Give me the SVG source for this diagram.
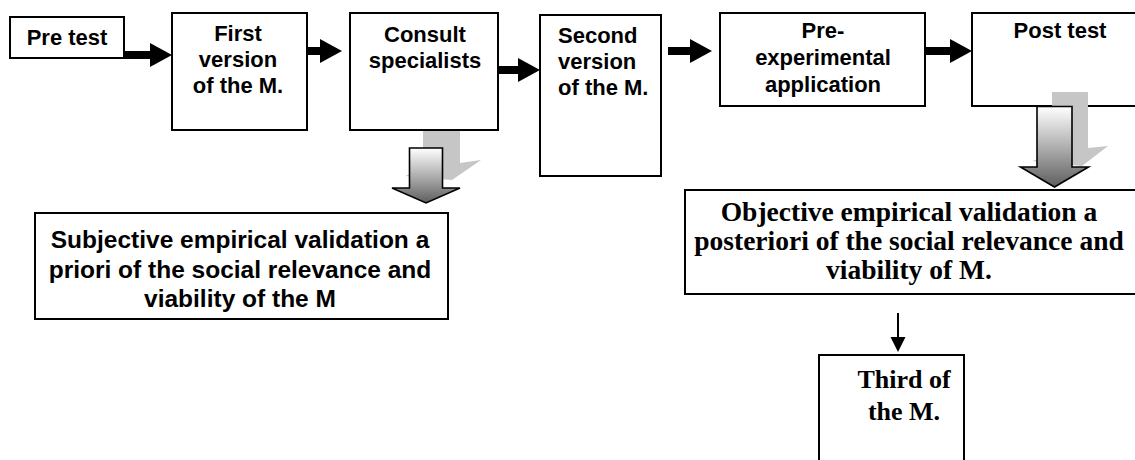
<svg xmlns="http://www.w3.org/2000/svg" width="1135" height="460" viewBox="0 0 1135 460">
  <style>
    .box { fill: #ffffff; stroke: #000000; stroke-width: 2; }
    .sans { font-family: "Liberation Sans", Arial, sans-serif; font-weight: bold; fill: #000000; }
    .serif { font-family: "Liberation Serif", "Times New Roman", serif; font-weight: bold; fill: #000000; }
    .top { font-size: 22px; }
    .big { font-size: 24.5px; }
    .tnr { font-size: 27.5px; }
    .flow { stroke: #000000; stroke-width: 8; fill: none; marker-end: url(#head); }
    .shadow { fill: #c6c6c6; stroke: none; }
    .block { fill: url(#shade); stroke: #000000; stroke-width: 1.6; stroke-linejoin: miter; }
  </style>
  <defs>
    <marker id="head" markerUnits="userSpaceOnUse" markerWidth="22" markerHeight="26" refX="0" refY="12" orient="auto">
      <path d="M0,0 L22,12 L0,24 Z" fill="#000000"/>
    </marker>
    <marker id="thin" markerUnits="userSpaceOnUse" markerWidth="16" markerHeight="16" refX="0" refY="7.5" orient="auto">
      <path d="M0,0 L15,7.5 L0,15 Z" fill="#000000"/>
    </marker>
    <linearGradient id="shade" x1="0" y1="0" x2="0" y2="1">
      <stop offset="0" stop-color="#ffffff"/>
      <stop offset="0.55" stop-color="#a8a8a8"/>
      <stop offset="1" stop-color="#5e5e5e"/>
    </linearGradient>
  </defs>

  <!-- process steps -->
  <g id="pre-test">
    <rect class="box" x="10" y="17" width="114" height="41"/>
    <text class="sans top" x="67" y="45" text-anchor="middle">Pre test</text>
  </g>
  <g id="first-version">
    <rect class="box" x="172" y="13" width="135" height="117"/>
    <text class="sans top" x="238" text-anchor="middle"><tspan x="238" y="41">First</tspan><tspan x="238" y="67">version</tspan><tspan x="238" y="93">of the M.</tspan></text>
  </g>
  <g id="consult-specialists">
    <rect class="box" x="350" y="13" width="148" height="117"/>
    <text class="sans top" text-anchor="middle"><tspan x="425" y="42">Consult</tspan><tspan x="425" y="68">specialists</tspan></text>
  </g>
  <g id="second-version">
    <rect class="box" x="540" y="15" width="121" height="161"/>
    <text class="sans top"><tspan x="558" y="43">Second</tspan><tspan x="558" y="69">version</tspan><tspan x="558" y="95">of the M.</tspan></text>
  </g>
  <g id="pre-experimental">
    <rect class="box" x="720" y="13" width="205" height="93"/>
    <text class="sans top" text-anchor="middle"><tspan x="823" y="38">Pre-</tspan><tspan x="823" y="65">experimental</tspan><tspan x="823" y="92">application</tspan></text>
  </g>
  <g id="post-test">
    <rect class="box" x="972" y="13" width="180" height="93"/>
    <text class="sans top" x="1060" y="38" text-anchor="middle">Post test</text>
  </g>

  <!-- validation results -->
  <g id="subjective-validation">
    <rect class="box" x="35" y="213" width="413" height="106"/>
    <text class="sans big" text-anchor="middle"><tspan x="240" y="248">Subjective empirical validation a</tspan><tspan x="240" y="277.5">priori of the social relevance and</tspan><tspan x="240" y="307">viability of the M</tspan></text>
  </g>
  <g id="objective-validation">
    <rect class="box" x="685" y="190" width="470" height="104"/>
    <text class="serif tnr" text-anchor="middle"><tspan x="909" y="221">Objective empirical validation a</tspan><tspan x="909" y="250">posteriori of the social relevance and</tspan><tspan x="909" y="279">viability of M.</tspan></text>
  </g>
  <g id="third-version">
    <rect class="box" x="819" y="355" width="145" height="120"/>
    <text class="serif" font-size="26" text-anchor="middle"><tspan x="904" y="388">Third of</tspan><tspan x="904" y="420">the M.</tspan></text>
  </g>

  <!-- connectors -->
  <g id="connectors">
    <line class="flow" x1="124" y1="55" x2="150" y2="55"/>
    <line class="flow" x1="308" y1="51" x2="320" y2="51"/>
    <line class="flow" x1="499" y1="70" x2="518" y2="70"/>
    <line class="flow" x1="668" y1="51" x2="690" y2="51"/>
    <line class="flow" x1="926" y1="51" x2="950" y2="51"/>

    <!-- shaded block arrows with their cast shadows -->
    <path class="shadow" d="M423,131 H460 V163 L481,160 L452,180 L405,176 L423,170 Z"/>
    <path class="block" d="M409.5,148 H442.5 V188 H460 L426,203 L392,188 H409.5 Z"/>
    <path class="shadow" d="M1052,92 H1088 V148 L1108,146 L1082,166 L1032,161 L1052,155 Z"/>
    <path class="block" d="M1037,106.5 H1072 V167 H1088.5 L1054.5,187 L1020.5,167 H1037 Z"/>

    <line x1="898" y1="313" x2="898" y2="337" stroke="#000000" stroke-width="2" marker-end="url(#thin)"/>
  </g>
</svg>
